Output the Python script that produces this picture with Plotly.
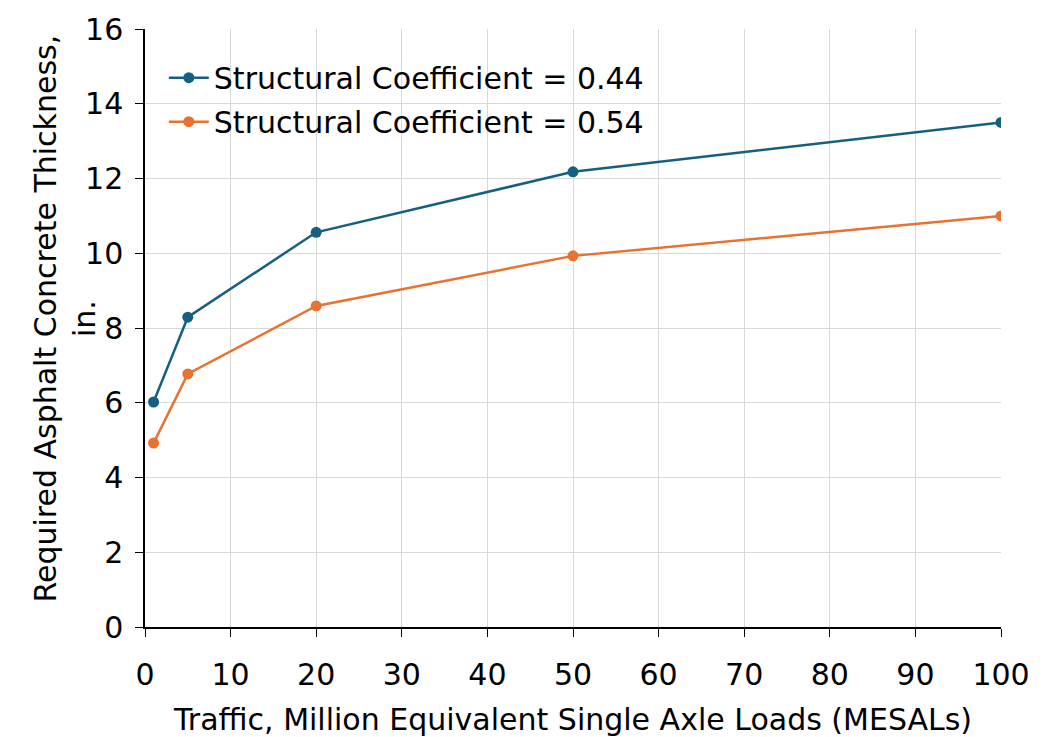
import plotly.graph_objects as go

traffic = [1, 5, 20, 50, 100]
thick_044 = [6.02, 8.29, 10.56, 12.18, 13.5]
thick_054 = [4.92, 6.77, 8.59, 9.93, 11.0]
names = ["Structural Coefficient = 0.44", "Structural Coefficient = 0.54"]
colors = ["#156082", "#E97132"]

FONT = "DejaVu Sans"
FS = 30
fig = go.Figure()
for i, (ys, nm, c) in enumerate(zip([thick_044, thick_054], names, colors)):
    fig.add_trace(go.Scatter(x=traffic, y=ys, name=nm, mode="lines+markers",
                             legendgroup=f"g{i}",
                             line=dict(color=c, width=2.5),
                             marker=dict(color=c, size=11)))

fig.update_layout(
    width=1045, height=737,
    margin=dict(l=145, r=44, t=29, b=110),
    paper_bgcolor="white", plot_bgcolor="white",
    font=dict(family=FONT, size=FS, color="black"),
    showlegend=True,
    legend=dict(x=0.022, y=0.962, xanchor="left", yanchor="top",
                bgcolor="rgba(0,0,0,0)", font=dict(size=FS),
                itemwidth=40, tracegroupgap=2),
    xaxis=dict(range=[0, 100], dtick=10, tick0=0, automargin=False,
               showgrid=True, gridcolor="#d9d9d9", gridwidth=1,
               showline=True, linecolor="black", linewidth=1.5,
               ticks="outside", ticklen=8, tickcolor="black",
               tickfont=dict(size=FS), ticklabelstandoff=12,
               zeroline=False,
               title=dict(text="Traffic, Million Equivalent Single Axle Loads (MESALs)",
                          font=dict(size=FS), standoff=18)),
    yaxis=dict(range=[0, 16], dtick=2, tick0=0, automargin=False,
               showgrid=True, gridcolor="#d9d9d9", gridwidth=1,
               showline=True, linecolor="black", linewidth=1.5,
               ticks="outside", ticklen=8, tickcolor="black",
               tickfont=dict(size=FS), ticklabelstandoff=6,
               zeroline=False),
    annotations=[dict(text="Required Asphalt Concrete Thickness,<br>in.",
                      textangle=-90, xref="paper", yref="paper",
                      x=-0.094, y=0.515, xanchor="center", yanchor="middle",
                      showarrow=False, font=dict(size=FS))],
)
fig.write_html("out.html")
